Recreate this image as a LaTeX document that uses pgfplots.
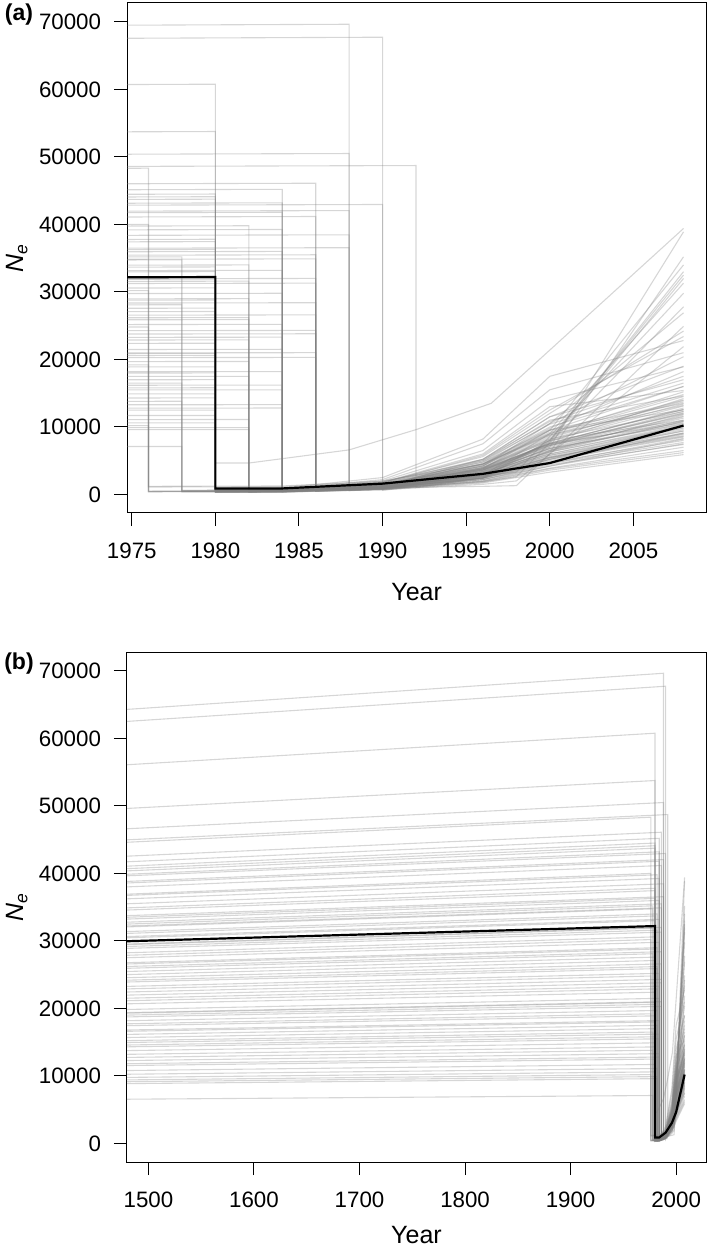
\documentclass[border=0pt]{standalone}
\usepackage{fontspec}
\setmainfont{Liberation Sans}
\usepackage{pgfplots}
\pgfplotsset{compat=1.18}

\tikzset{gr/.style={draw=gray,draw opacity=0.32,line width=0.55pt,mark=none}}

% posterior trajectories: (1479, ancestral) (break, before) (break, after) ... (2008, final)
\newcommand{\trajectories}{%
\addplot[gr] coordinates {(1479,64290) (1988,69650) (1988,700) (1990,900) (1996,3000) (2000,7800) (2008,14200)};
\addplot[gr] coordinates {(1479,62510) (1990,67730) (1990,600) (1996,2400) (2000,6500) (2008,11800)};
\addplot[gr] coordinates {(1479,56090) (1980,60770) (1980,450) (1984,500) (1990,1300) (1996,3800) (2000,7600) (2008,12600)};
\addplot[gr] coordinates {(1479,49620) (1980,53760) (1980,800) (1984,850) (1990,1800) (1996,5600) (2000,12000) (2008,24200)};
\addplot[gr] coordinates {(1479,46610) (1988,50500) (1988,900) (1990,1200) (1996,4200) (2000,9500) (2008,16000)};
\addplot[gr] coordinates {(1479,44970) (1992,48720) (1992,1000) (1996,2500) (2000,5200) (2008,10300)};
\addplot[gr] coordinates {(1479,44610) (1976,48330) (1976,400) (1984,450) (1990,1000) (1996,2400) (2000,4800) (2008,9100)};
\addplot[gr] coordinates {(1479,42550) (1986,46100) (1986,600) (1990,900) (1996,2400) (2000,7800) (2008,32000)};
\addplot[gr] coordinates {(1479,40700) (1980,44100) (1980,350) (1984,400) (1990,900) (1996,2200) (2000,4200) (2008,8200)};
\addplot[gr] coordinates {(1479,40370) (1980,43740) (1980,500) (1984,550) (1990,1400) (1996,4500) (2000,9000) (2008,14500)};
\addplot[gr] coordinates {(1479,39870) (1984,43200) (1984,700) (1990,1500) (1996,4000) (2000,8200) (2008,12300)};
\addplot[gr] coordinates {(1479,39640) (1990,42950) (1990,800) (1996,2000) (2000,4200) (2008,7500)};
\addplot[gr] coordinates {(1479,38810) (1988,42050) (1988,650) (1990,900) (1996,3000) (2000,6400) (2008,10800)};
\addplot[gr] coordinates {(1479,38000) (1986,41170) (1986,500) (1990,700) (1996,1500) (1998,2000) (2008,21900)};
\addplot[gr] coordinates {(1479,36230) (1984,39250) (1984,600) (1990,1200) (1996,5200) (2000,11500) (2008,19000)};
\addplot[gr] coordinates {(1479,35500) (1988,38460) (1988,550) (1990,800) (1996,2600) (2000,5400) (2008,9400)};
\addplot[gr] coordinates {(1479,34890) (1980,37800) (1980,400) (1984,450) (1990,1100) (1996,3600) (2000,7000) (2008,11300)};
\addplot[gr] coordinates {(1479,34570) (1980,37450) (1980,700) (1984,750) (1990,1700) (1996,5800) (2000,12500) (2008,23400)};
\addplot[gr] coordinates {(1479,33740) (1988,36550) (1988,750) (1990,1000) (1996,3400) (2000,7200) (2008,12100)};
\addplot[gr] coordinates {(1479,33500) (1980,36300) (1980,300) (1984,350) (1990,800) (1996,2000) (2000,3900) (2008,7000)};
\addplot[gr] coordinates {(1479,33230) (1984,36000) (1984,500) (1990,900) (1996,2500) (2000,8000) (2008,33000)};
\addplot[gr] coordinates {(1479,32770) (1986,35500) (1986,650) (1990,1100) (1996,3900) (2000,8200) (2008,13400)};
\addplot[gr] coordinates {(1479,32210) (1986,34900) (1986,450) (1990,750) (1996,2200) (2000,4600) (2008,8300)};
\addplot[gr] coordinates {(1479,32070) (1978,34750) (1978,500) (1984,600) (1990,1400) (1996,4400) (2000,9200) (2008,14800)};
\addplot[gr] coordinates {(1479,31380) (1982,34000) (1982,400) (1984,450) (1990,1100) (1996,3100) (2000,6000) (2008,10100)};
\addplot[gr] coordinates {(1479,31110) (1980,33700) (1980,600) (1984,650) (1990,1300) (1996,2800) (1998,3300) (2008,29800)};
\addplot[gr] coordinates {(1479,30640) (1984,33200) (1984,550) (1990,1200) (1996,4000) (2000,8600) (2008,13700)};
\addplot[gr] coordinates {(1479,29540) (1986,32000) (1986,700) (1990,1100) (1996,3400) (2000,6800) (2008,10500)};
\addplot[gr] coordinates {(1479,29170) (1982,31600) (1982,350) (1984,400) (1990,900) (1996,2500) (2000,5000) (2008,8500)};
\addplot[gr] coordinates {(1479,28890) (1986,31300) (1986,800) (1990,1300) (1996,4600) (2000,10000) (2008,16000)};
\addplot[gr] coordinates {(1479,28240) (1980,30600) (1980,4650) (1982,4650) (1988,6600) (1992,9600) (1996.5,13500) (2008,39400)};
\addplot[gr] coordinates {(1479,27510) (1984,29800) (1984,450) (1990,900) (1996,2400) (2000,4600) (2008,7700)};
\addplot[gr] coordinates {(1479,26580) (1980,28800) (1980,600) (1984,650) (1990,1500) (1996,4800) (2000,10500) (2008,20400)};
\addplot[gr] coordinates {(1479,25940) (1978,28100) (1978,350) (1984,400) (1990,1000) (1996,3000) (2000,6000) (2008,9900)};
\addplot[gr] coordinates {(1479,25470) (1980,27600) (1980,500) (1984,550) (1990,1300) (1996,3700) (2000,7500) (2008,12800)};
\addplot[gr] coordinates {(1479,25010) (1980,27100) (1980,300) (1984,350) (1990,800) (1996,1900) (2000,3800) (2008,6500)};
\addplot[gr] coordinates {(1479,24550) (1986,26600) (1986,600) (1990,900) (1996,2800) (2000,9000) (2008,31300)};
\addplot[gr] coordinates {(1479,23910) (1982,25900) (1982,450) (1984,500) (1990,1100) (1996,3300) (2000,6600) (2008,11000)};
\addplot[gr] coordinates {(1479,23260) (1984,25200) (1984,700) (1990,1400) (1996,4300) (2000,9000) (2008,15200)};
\addplot[gr] coordinates {(1479,22430) (1986,24300) (1986,500) (1990,800) (1996,2400) (2000,5200) (2008,8900)};
\addplot[gr] coordinates {(1479,21970) (1986,23800) (1986,650) (1990,1000) (1996,3600) (2000,7600) (2008,12600)};
\addplot[gr] coordinates {(1479,21140) (1982,22900) (1982,400) (1984,450) (1990,1000) (1996,2900) (2000,5600) (2008,9600)};
\addplot[gr] coordinates {(1479,20680) (1980,22400) (1980,550) (1984,600) (1990,1400) (1996,4200) (2000,10500) (2008,26900)};
\addplot[gr] coordinates {(1479,19840) (1984,21500) (1984,350) (1990,750) (1996,1800) (2000,3600) (2008,6200)};
\addplot[gr] coordinates {(1479,19290) (1980,20900) (1980,450) (1984,500) (1990,1100) (1996,3300) (2000,6800) (2008,11500)};
\addplot[gr] coordinates {(1479,19010) (1980,20600) (1980,800) (1984,850) (1990,1800) (1996,5200) (2000,10800) (2008,17500)};
\addplot[gr] coordinates {(1479,18740) (1986,20300) (1986,550) (1990,900) (1996,3000) (2000,6500) (2008,10800)};
\addplot[gr] coordinates {(1479,18180) (1982,19700) (1982,500) (1984,550) (1990,1000) (1996,1200) (1998,1300) (2008,24900)};
\addplot[gr] coordinates {(1479,17440) (1980,18900) (1980,400) (1984,450) (1990,1000) (1996,2900) (2000,5800) (2008,9400)};
\addplot[gr] coordinates {(1479,16800) (1984,18200) (1984,600) (1990,1300) (1996,3800) (2000,8000) (2008,13100)};
\addplot[gr] coordinates {(1479,16610) (1980,18000) (1980,350) (1984,400) (1990,850) (1996,2200) (2000,4400) (2008,7400)};
\addplot[gr] coordinates {(1479,15690) (1980,17000) (1980,500) (1984,550) (1990,1100) (1996,3200) (2000,6300) (2008,10300)};
\addplot[gr] coordinates {(1479,14950) (1984,16200) (1984,450) (1990,900) (1996,2700) (2000,5500) (2008,9000)};
\addplot[gr] coordinates {(1479,14580) (1980,15800) (1980,700) (1984,750) (1990,1600) (1996,4500) (2000,9800) (2008,18200)};
\addplot[gr] coordinates {(1479,14310) (1984,15500) (1984,550) (1990,1100) (1996,3400) (2000,7200) (2008,11600)};
\addplot[gr] coordinates {(1479,13200) (1980,14300) (1980,300) (1984,350) (1990,700) (1996,1700) (2000,3300) (2008,5900)};
\addplot[gr] coordinates {(1479,12740) (1978,13800) (1978,450) (1984,500) (1990,1150) (1996,3600) (2000,7300) (2008,12300)};
\addplot[gr] coordinates {(1479,11810) (1984,12800) (1984,500) (1990,1000) (1996,3100) (2000,6300) (2008,10100)};
\addplot[gr] coordinates {(1479,11540) (1980,12500) (1980,650) (1984,700) (1990,1500) (1996,4200) (2000,8800) (2008,14000)};
\addplot[gr] coordinates {(1479,10250) (1982,11100) (1982,400) (1984,450) (1990,950) (1996,2700) (2000,5400) (2008,8700)};
\addplot[gr] coordinates {(1479,9780) (1980,10600) (1980,550) (1984,600) (1990,1250) (1996,3700) (2000,7500) (2008,12000)};
\addplot[gr] coordinates {(1479,9140) (1982,9900) (1982,350) (1984,400) (1990,850) (1996,2400) (2000,4800) (2008,8000)};
\addplot[gr] coordinates {(1479,8860) (1982,9600) (1982,600) (1984,650) (1990,1400) (1996,4000) (2000,8400) (2008,13900)};
\addplot[gr] coordinates {(1479,6550) (1978,7100) (1978,450) (1984,500) (1990,1050) (1996,2900) (2000,5800) (2008,9800)};
\addplot[gr] coordinates {(1479,36920) (1976,40000) (1976,500) (1984,550) (1990,1000) (1996,2600) (2000,6200) (2008,35200)};
\addplot[gr] coordinates {(1479,27870) (1976,30200) (1976,1100) (1984,1150) (1990,1900) (1996,5000) (2000,10400) (2008,16500)};
\addplot[gr] coordinates {(1479,22890) (1976,24800) (1976,450) (1984,500) (1990,1000) (1996,2800) (2000,5500) (2008,9100)};
\addplot[gr] coordinates {(1479,17720) (1976,19200) (1976,1200) (1984,1250) (1990,2000) (1996,4500) (2000,8800) (2008,13200)};
\addplot[gr] coordinates {(1479,9410) (1976,10200) (1976,400) (1984,450) (1990,950) (1996,2600) (2000,5200) (2008,8600)};
\addplot[gr] coordinates {(1479,15230) (1978,16500) (1978,600) (1984,650) (1990,1200) (1996,2900) (2000,7000) (2008,38900)};
\addplot[gr] coordinates {(1479,38580) (1984,41800) (1984,650) (1990,1100) (1996,3800) (2000,9500) (2008,34000)};
\addplot[gr] coordinates {(1479,21510) (1984,23300) (1984,500) (1990,850) (1996,1900) (1998,2600) (2008,27800)};
\addplot[gr] coordinates {(1479,26770) (1982,29000) (1982,550) (1984,600) (1990,1100) (1996,2700) (2000,8000) (2008,32500)};
\addplot[gr] coordinates {(1479,41720) (1984,45200) (1984,800) (1990,2200) (1996,7500) (2000,15500) (2008,21000)};
\addplot[gr] coordinates {(1479,24180) (1982,26200) (1982,700) (1984,750) (1990,2000) (1996,6500) (2000,14000) (2008,18900)};
\addplot[gr] coordinates {(1479,13750) (1980,14900) (1980,900) (1984,950) (1990,2500) (1996,8200) (2000,17500) (2008,22800)};
\addplot[gr] coordinates {(1479,32490) (1978,35200) (1978,600) (1984,650) (1990,1800) (1996,6000) (2000,13000) (2008,15400)};
\addplot[gr] coordinates {(1479,19380) (1986,21000) (1986,750) (1990,1300) (1996,5000) (2000,11000) (2008,14600)};
\addplot[gr] coordinates {(1479,41070) (1980,44500) (1980,500) (1984,550) (1990,1500) (1996,4500) (2000,9500) (2008,12500)};
\addplot[gr] coordinates {(1479,29440) (1980,31900) (1980,650) (1984,700) (1990,1600) (1996,5200) (2000,11500) (2008,17000)};
\addplot[gr] coordinates {(1479,10800) (1980,11700) (1980,450) (1984,500) (1990,1200) (1996,3500) (2000,7500) (2008,10600)};
\addplot[gr] coordinates {(1479,36740) (1982,39800) (1982,550) (1984,600) (1990,1400) (1996,3800) (2000,7400) (2008,11900)};
\addplot[gr] coordinates {(1479,16150) (1982,17500) (1982,600) (1984,650) (1990,1700) (1996,4800) (2000,9600) (2008,13500)};
\addplot[gr] coordinates {(1479,26210) (1986,28400) (1986,500) (1990,900) (1996,3200) (2000,6800) (2008,10400)};
\addplot[gr] coordinates {(1479,12280) (1984,13300) (1984,650) (1990,1300) (1996,3900) (2000,8000) (2008,11000)};
\addplot[gr] coordinates {(1479,30460) (1980,33000) (1980,550) (1984,600) (1990,1300) (1996,3600) (2000,7300) (2008,10900)};
\addplot[black,line width=1.1pt,mark=none] coordinates {(1479,29950) (1980,32200) (1980,890) (1984,890) (1990,1600) (1996,3050) (2000,4650) (2008,10200)};
}

\pgfplotsset{
  neplot/.style={
    scale only axis, width=289.5pt, height=255pt,
    axis line style={line width=0.5pt},
    tick style={black,line width=0.5pt},
    major tick length=6.5pt, tick align=outside,
    xtick pos=bottom, ytick pos=left,
    ymin=-2750, ymax=72800,
    ytick={0,10000,...,70000},
    scaled ticks=false,
    /pgf/number format/assume math mode=true,
    /pgf/number format/set thousands separator={},
    ticklabel style={font=\fontsize{11.15}{13}\selectfont},
    yticklabel style={xshift=-3pt},
    xticklabel style={yshift=-5pt},
    ylabel style={at={(axis description cs:-0.19,0.5)},rotate=0,anchor=center},
    label style={font=\fontsize{12.5}{14}\selectfont},
    xlabel={Year},
    ylabel={\itshape N\textsubscript{e}},
  }
}

\begin{document}
\begin{tikzpicture}
\useasboundingbox (-63.5pt,-369pt) rectangle (291pt,256.5pt);
\begin{axis}[neplot, at={(0,0)}, anchor=south west,
  xlabel style={at={(axis description cs:0.5,-0.154)},anchor=center},
  xmin=1974.72, xmax=2009.35, xtick={1975,1980,...,2005}]
\trajectories
\end{axis}
\begin{axis}[neplot, at={(0,-324.5pt)}, anchor=south west,
  xlabel style={at={(axis description cs:0.5,-0.143)},anchor=center},
  xmin=1479.7, xmax=2028.3, xtick={1500,1600,...,2000}]
\trajectories
\end{axis}
\node[font=\fontsize{11.5}{13}\selectfont\bfseries] at (-54pt,249pt) {(a)};
\node[font=\fontsize{11.5}{13}\selectfont\bfseries] at (-54pt,-75.5pt) {(b)};
\end{tikzpicture}
\end{document}
